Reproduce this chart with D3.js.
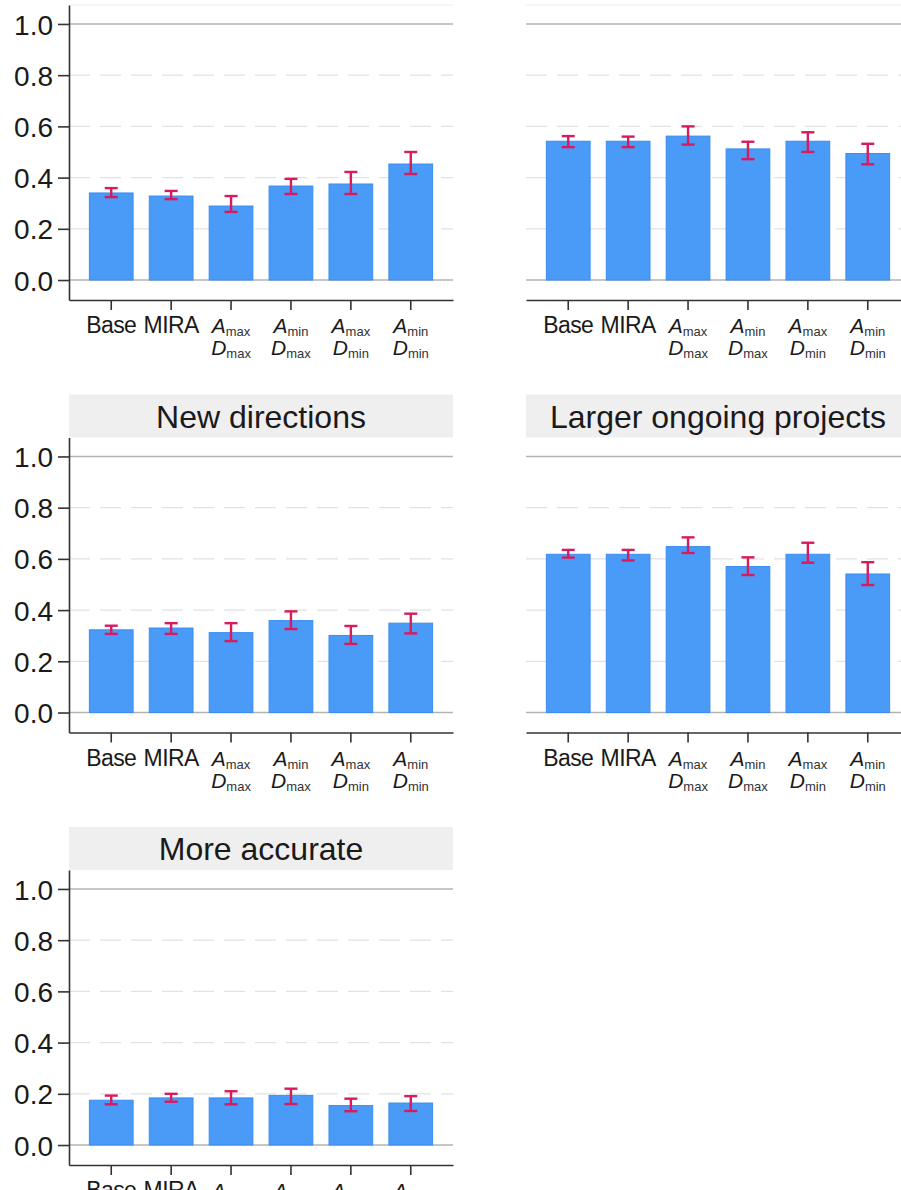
<!DOCTYPE html>
<html>
<head>
<meta charset="utf-8">
<script src="https://cdn.jsdelivr.net/npm/d3@7"></script>
<style>
  body { margin: 0; background: #fff; }
  svg { display: block; font-family: "Liberation Sans", Arial, Helvetica, sans-serif; }
</style>
</head>
<body>
<div id="chart"></div>
<script>
var WIDTH = 901;
var HEIGHT = 1190;

// categories and how their tick labels are written (main letter + subscript, two lines)
var categories = ["Base", "MIRA", "AmaxDmax", "AminDmax", "AmaxDmin", "AminDmin"];
var labelLines = [
  [["Base", ""]],
  [["MIRA", ""]],
  [["A", "max"], ["D", "max"]],
  [["A", "min"], ["D", "max"]],
  [["A", "max"], ["D", "min"]],
  [["A", "min"], ["D", "min"]]
];

var panelTitles = ["", "", "New directions", "Larger ongoing projects", "More accurate"];

var yTicks = [0, 0.2, 0.4, 0.6, 0.8, 1.0];

// panel 1 (top left)
var p1Mean = [0.340, 0.328, 0.289, 0.367, 0.375, 0.453];
var p1Low  = [0.324, 0.316, 0.266, 0.336, 0.336, 0.414];
var p1High = [0.359, 0.348, 0.328, 0.395, 0.422, 0.500];
// panel 2 (top right)
var p2Mean = [0.542, 0.542, 0.562, 0.512, 0.542, 0.494];
var p2Low  = [0.519, 0.519, 0.529, 0.472, 0.500, 0.452];
var p2High = [0.562, 0.560, 0.600, 0.540, 0.577, 0.532];
// New directions
var p3Mean = [0.323, 0.330, 0.312, 0.359, 0.301, 0.349];
var p3Low  = [0.307, 0.307, 0.279, 0.326, 0.268, 0.309];
var p3High = [0.339, 0.349, 0.349, 0.395, 0.338, 0.386];
// Larger ongoing projects
var p4Mean = [0.618, 0.618, 0.648, 0.570, 0.618, 0.541];
var p4Low  = [0.605, 0.594, 0.623, 0.537, 0.585, 0.498];
var p4High = [0.635, 0.635, 0.684, 0.606, 0.663, 0.587];
// More accurate
var p5Mean = [0.175, 0.184, 0.184, 0.194, 0.154, 0.164];
var p5Low  = [0.159, 0.169, 0.159, 0.160, 0.132, 0.133];
var p5High = [0.193, 0.200, 0.210, 0.220, 0.181, 0.191];

var panelMeans = [p1Mean, p2Mean, p3Mean, p4Mean, p5Mean];
var panelLows = [p1Low, p2Low, p3Low, p4Low, p5Low];
var panelHighs = [p1High, p2High, p3High, p4High, p5High];

// layout
var colX = [69, 526];
var rowTop = [5, 437.5, 870];   // top of each panel area (under the strip)
var PW = 384;
var PH = 295;
var STRIP_H = 43;

var BAR_FILL = "#4a9af7";
var BAR_EDGE = "#3a8df0";
var ERR = "#d81b5c";
var AXIS = "#333333";

var svg = d3.select("#chart")
  .append("svg")
  .attr("width", WIDTH)
  .attr("height", HEIGHT);

var x = d3.scaleBand()
  .domain(categories)
  .range([0, PW])
  .paddingInner(0.27)
  .paddingOuter(0.34);

var y = d3.scaleLinear()
  .domain([-0.078, 1.074])
  .range([PH, 0]);

panelMeans.forEach(function(means, p) {
  var col = p % 2;
  var row = Math.floor(p / 2);
  var g = svg.append("g")
    .attr("transform", "translate(" + colX[col] + "," + rowTop[row] + ")");

  // strip
  if (panelTitles[p] !== "") {
    g.append("rect")
      .attr("x", 0).attr("y", -STRIP_H)
      .attr("width", PW).attr("height", STRIP_H)
      .attr("fill", "#efefef");
    g.append("text")
      .attr("x", PW / 2).attr("y", -10)
      .attr("text-anchor", "middle")
      .attr("font-size", "32px")
      .attr("fill", "#1a1a1a")
      .text(panelTitles[p]);
  } else {
    g.append("line")
      .attr("x1", 0).attr("x2", PW)
      .attr("y1", 0).attr("y2", 0)
      .attr("stroke", "#eeeeee").attr("stroke-width", 1);
  }

  // grid
  g.selectAll(".grid")
    .data(yTicks)
    .enter().append("line")
    .attr("x1", 0).attr("x2", PW)
    .attr("y1", function(d) { return y(d); })
    .attr("y2", function(d) { return y(d); })
    .attr("stroke", function(d) { return (d === 0 || d === 1) ? "#b3b3b3" : "#e2e2e2"; })
    .attr("stroke-width", function(d) { return (d === 0 || d === 1) ? 1.6 : 1.3; })
    .attr("stroke-dasharray", function(d) { return (d === 0 || d === 1) ? null : "21,10"; });

  // bars
  g.selectAll(".bar")
    .data(means)
    .enter().append("rect")
    .attr("x", function(d, i) { return x(categories[i]); })
    .attr("y", function(d) { return y(d); })
    .attr("width", x.bandwidth())
    .attr("height", function(d) { return y(0) - y(d); })
    .attr("fill", BAR_FILL)
    .attr("stroke", BAR_EDGE)
    .attr("stroke-width", 1);

  // error bars
  var lows = panelLows[p];
  var highs = panelHighs[p];
  var capW = 6.5;
  var eg = g.selectAll(".err")
    .data(categories)
    .enter().append("g")
    .attr("stroke", ERR)
    .attr("stroke-width", 2.4);
  eg.append("line")
    .attr("x1", function(d) { return x(d) + x.bandwidth() / 2; })
    .attr("x2", function(d) { return x(d) + x.bandwidth() / 2; })
    .attr("y1", function(d, i) { return y(lows[i]); })
    .attr("y2", function(d, i) { return y(highs[i]); });
  eg.append("line")
    .attr("x1", function(d) { return x(d) + x.bandwidth() / 2 - capW; })
    .attr("x2", function(d) { return x(d) + x.bandwidth() / 2 + capW; })
    .attr("y1", function(d, i) { return y(lows[i]); })
    .attr("y2", function(d, i) { return y(lows[i]); });
  eg.append("line")
    .attr("x1", function(d) { return x(d) + x.bandwidth() / 2 - capW; })
    .attr("x2", function(d) { return x(d) + x.bandwidth() / 2 + capW; })
    .attr("y1", function(d, i) { return y(highs[i]); })
    .attr("y2", function(d, i) { return y(highs[i]); });

  // x axis
  var xa = g.append("g")
    .attr("transform", "translate(0," + PH + ")")
    .call(d3.axisBottom(x).tickSize(10).tickSizeOuter(0).tickFormat(""));
  xa.select(".domain").attr("stroke", AXIS).attr("stroke-width", 1.6);
  xa.selectAll(".tick line").attr("stroke", AXIS).attr("stroke-width", 1.6);
  xa.selectAll(".tick text").remove();
  xa.selectAll(".tick").each(function(d, i) {
    var lines = labelLines[i];
    var tick = d3.select(this);
    lines.forEach(function(ln, k) {
      var t = tick.append("text")
        .attr("x", 0)
        .attr("y", 33 + k * 22)
        .attr("text-anchor", "middle")
        .attr("fill", "#1a1a1a")
        .attr("font-size", ln[1] === "" ? "23px" : "21px")
        .attr("letter-spacing", ln[1] === "" ? "-0.6px" : null);
      t.append("tspan")
        .attr("font-style", ln[1] === "" ? null : "italic")
        .text(ln[0]);
      if (ln[1] !== "") {
        t.append("tspan")
          .attr("font-size", "13px")
          .attr("dy", 3)
          .attr("fill", "#333")
          .text(ln[1]);
      }
    });
  });

  // y axis on the left column only
  if (col === 0) {
    var ya = g.append("g")
      .call(d3.axisLeft(y).tickValues(yTicks).tickSize(11).tickSizeOuter(0)
        .tickFormat(d3.format(".1f")));
    ya.select(".domain").attr("stroke", AXIS).attr("stroke-width", 1.6);
    ya.selectAll(".tick line").attr("stroke", AXIS).attr("stroke-width", 1.6);
    ya.selectAll(".tick text")
      .attr("font-size", "28px")
      .attr("fill", "#1a1a1a")
      .attr("font-family", "'Liberation Sans', Arial, sans-serif")
      .attr("x", -16)
      .attr("dy", "0.36em");
  }
});
</script>
</body>
</html>
